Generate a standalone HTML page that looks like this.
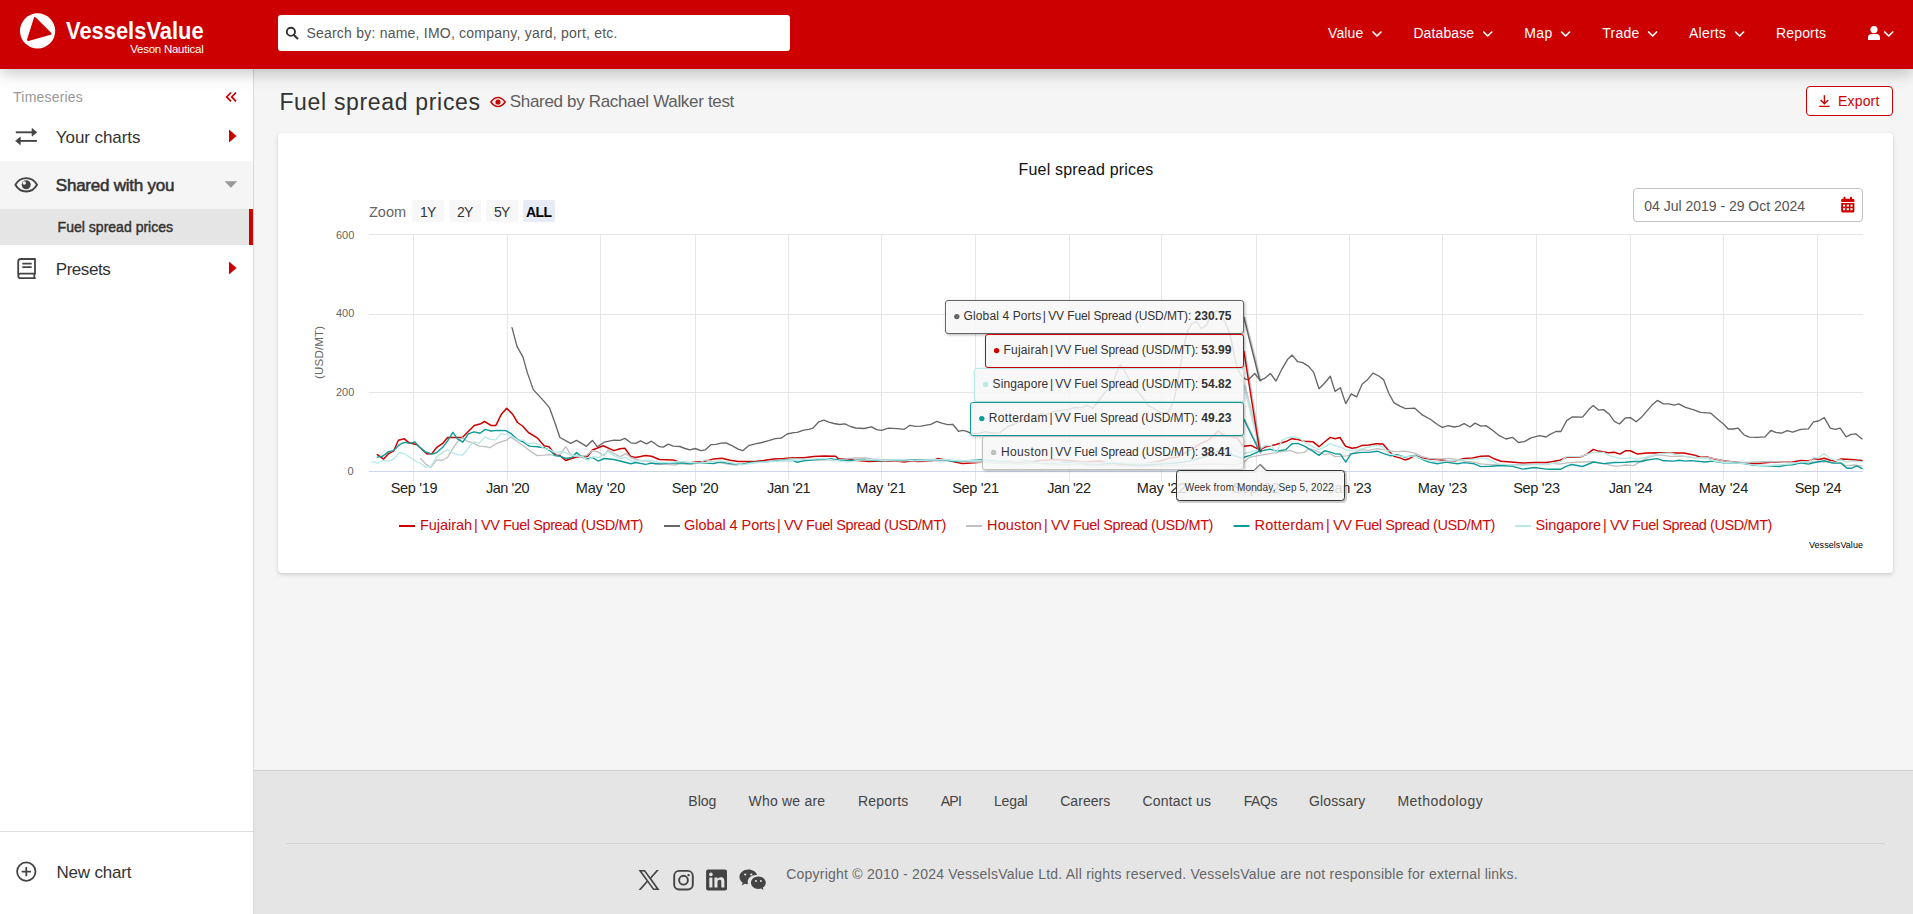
<!DOCTYPE html>
<html lang="en">
<head>
<meta charset="utf-8">
<title>Fuel spread prices</title>
<style>
*{box-sizing:border-box;margin:0;padding:0}
html,body{width:1913px;height:914px;overflow:hidden}
body{font-family:"Liberation Sans",sans-serif;background:#f5f5f5;color:#333;position:relative}
.a{position:absolute}
.t{position:absolute;white-space:nowrap;line-height:1;z-index:1}
svg{position:absolute;overflow:visible}
#hdr{position:absolute;left:0;top:0;width:1913px;height:69px;background:#cc0000;box-shadow:0 3px 16px rgba(0,0,0,.26);z-index:5}
#search{position:absolute;left:278px;top:15px;width:512px;height:36px;background:#fff;border-radius:3px}
#side{position:absolute;left:0;top:69px;width:254px;height:845px;background:#fff;border-right:1px solid #d9d9d9;z-index:2}
#foot{position:absolute;left:254px;top:770px;width:1659px;height:144px;background:#e5e5e5;border-top:1px solid #cfcfcf}
#card{position:absolute;left:278px;top:133px;width:1615px;height:440px;background:#fff;border-radius:4px;box-shadow:0 2px 4px rgba(0,0,0,.15),0 0 2px rgba(0,0,0,.05)}
.zb{position:absolute;top:200px;width:32px;height:22px;background:#f7f7f7;border-radius:2px}
.tt{position:absolute;background:rgba(247,247,247,.85);border:1px solid #666;border-radius:3px;box-shadow:1px 1px 3px rgba(0,0,0,.3);z-index:3}
</style>
</head>
<body>
<!-- ================= HEADER ================= -->
<div id="hdr">
  <svg style="left:19px;top:12px" width="38" height="38" viewBox="0 0 38 38"><circle cx="18.6" cy="18.9" r="17.6" fill="#fff"/><path d="M16 6.3 L31.3 21.6 L9.2 27.8 Z" fill="#cc0000" stroke="#cc0000" stroke-width="2.4" stroke-linejoin="round"/></svg>
  <div id="search"></div>
  <svg style="left:285px;top:26px" width="14" height="14" viewBox="0 0 14 14"><circle cx="5.9" cy="5.8" r="4.1" fill="none" stroke="#333" stroke-width="1.9"/><path d="M8.9 8.9 L12.4 12.4" stroke="#333" stroke-width="2.1" stroke-linecap="round"/></svg>
  <!-- nav chevrons -->
  <svg style="left:0;top:0" width="1913" height="69" viewBox="0 0 1913 69" fill="none" stroke="#fff" stroke-width="1.7" stroke-linecap="round" stroke-linejoin="round">
    <path d="M1373 32 l4 4 l4 -4"/><path d="M1483.7 32 l4 4 l4 -4"/><path d="M1561.6 32 l4 4 l4 -4"/><path d="M1648.6 32 l4 4 l4 -4"/><path d="M1735.6 32 l4 4 l4 -4"/><path d="M1884.7 32 l4 4 l4 -4"/>
  </svg>
  <!-- user -->
  <svg style="left:1867px;top:25px" width="14" height="16" viewBox="0 0 14 16"><circle cx="7" cy="4.6" r="3.6" fill="#fff"/><path d="M1 14.9 v-2.2 a3.6 3.6 0 0 1 3.6 -3.6 h4.8 a3.6 3.6 0 0 1 3.6 3.6 v2.2 z" fill="#fff"/></svg>
</div>
<!-- ================= SIDEBAR ================= -->
<div id="side">
  <div class="a" style="left:0;top:92px;width:253px;height:48px;background:#f5f5f5"></div>
  <div class="a" style="left:0;top:140px;width:253px;height:36px;background:#e5e5e5"></div>
  <div class="a" style="left:249px;top:140px;width:4px;height:36px;background:#cc0000"></div>
  <div class="a" style="left:0;top:762px;width:253px;height:1px;background:#dedede"></div>
  <svg style="left:0;top:0" width="253" height="845" viewBox="0 69 253 845">
    <!-- double angle left -->
    <path d="M231 92.5 l-4.3 4.4 l4.3 4.4 M236 92.5 l-4.3 4.4 l4.3 4.4" fill="none" stroke="#cc0000" stroke-width="1.7"/>
    <!-- exchange arrows -->
    <g stroke="#444" stroke-width="1.9" fill="#444"><path d="M15.8 132.3 H32.5" fill="none"/><path d="M32 128.4 L36.9 132.3 L32 136.2 Z" stroke-width=".6" stroke-linejoin="round"/><path d="M36.9 140.9 H20" fill="none"/><path d="M20.400 137 L15.500 140.900 L20.400 144.800 Z" stroke-width=".6" stroke-linejoin="round"/></g>
    <!-- red triangles -->
    <path d="M229 129.6 L236.6 136 L229 142.4 Z" fill="#cc0000"/>
    <path d="M229 261.6 L236.6 268 L229 274.4 Z" fill="#cc0000"/>
    <!-- gray caret down -->
    <path d="M224.6 181.2 H237.2 L230.9 187.8 Z" fill="#999"/>
    <!-- eye -->
    <path d="M15.4 184.800 C18.2 179.6 22 178.100 26.2 178.100 C30.4 178.100 34.2 179.6 37 184.800 C34.2 190 30.4 191.500 26.2 191.500 C22 191.500 18.2 190 15.4 184.800 Z" fill="none" stroke="#444" stroke-width="1.9" stroke-linejoin="round"/>
    <circle cx="26.2" cy="184.800" r="4.5" fill="#444"/><circle cx="24.3" cy="183" r="1.7" fill="#f5f5f5"/>
    <!-- book -->
    <path d="M18.2 275.8 V261.6 a2.6 2.6 0 0 1 2.6 -2.6 H35 V273.7 H20.500 a2.200 2.200 0 0 0 0 4.400 H35.700 M34.300 273.700 V278.100" fill="none" stroke="#444" stroke-width="1.8" stroke-linejoin="round"/>
    <path d="M22.300 263.700 H31.700 M22.300 267.100 H31.700" stroke="#444" stroke-width="1.8"/>
    <!-- plus circle -->
    <circle cx="26.3" cy="871.6" r="9.2" fill="none" stroke="#444" stroke-width="1.8"/><path d="M21.6 871.6 H31 M26.3 866.9 V876.3" stroke="#444" stroke-width="1.8"/>
  </svg>
</div>
<!-- ================= MAIN ================= -->
<!-- title eye -->
<svg style="left:489px;top:95px" width="18" height="14" viewBox="0 0 18 14"><path d="M1.9 7 C4.4 3.4 6.8 2.5 9 2.5 C11.2 2.5 13.6 3.4 16.100 7 C13.6 10.6 11.2 11.5 9 11.5 C6.8 11.5 4.4 10.6 1.9 7 Z" fill="none" stroke="#cc0000" stroke-width="1.5" stroke-linejoin="round"/><circle cx="9" cy="7" r="2.600" fill="#cc0000"/></svg>
<!-- export -->
<div class="a" style="left:1806px;top:86px;width:87px;height:30px;background:#fff;border:1px solid #cc0000;border-radius:4px"></div>
<svg style="left:1818px;top:94px" width="13" height="14" viewBox="0 0 13 14" fill="none" stroke="#cc0000" stroke-width="1.4"><path d="M6.4 1.2 V9.6 M2.6 6 L6.4 9.8 L10.2 6 M1.2 12.4 H11.6"/></svg>
<div id="card"></div>
<!-- ================= CHART ================= -->
<div class="zb" style="left:412px"></div><div class="zb" style="left:449px"></div><div class="zb" style="left:486px"></div><div class="zb" style="left:523px;background:#e6ebf5"></div>
<div class="a" style="left:1633px;top:188px;width:230px;height:34px;background:#fff;border:1px solid #c4c4c4;border-radius:4px"></div>
<!-- calendar -->
<svg style="left:1840px;top:196px" width="16" height="18" viewBox="0 0 16 18"><path d="M1.2 4.2 a1.4 1.4 0 0 1 1.4 -1.4 H13 a1.4 1.4 0 0 1 1.4 1.4 V6 H1.2 Z M1.2 7 H14.4 V15 a1.4 1.4 0 0 1 -1.4 1.4 H2.6 a1.4 1.4 0 0 1 -1.4 -1.4 Z" fill="#cc0000"/><rect x="3.6" y="0.8" width="1.9" height="3.4" rx=".6" fill="#cc0000"/><rect x="10.1" y="0.8" width="1.9" height="3.4" rx=".6" fill="#cc0000"/><g fill="#fff"><rect x="3" y="8.6" width="2.2" height="2"/><rect x="6.7" y="8.6" width="2.2" height="2"/><rect x="10.4" y="8.6" width="2.2" height="2"/><rect x="3" y="12.2" width="2.2" height="2"/><rect x="6.7" y="12.2" width="2.2" height="2"/><rect x="10.4" y="12.2" width="2.2" height="2"/></g></svg>
<div class="t" style="left:313px;top:345px;font-size:11.5px;color:#666;transform:rotate(-90deg);transform-origin:0 0;width:0;height:0"><span style="position:absolute;left:-34px;top:1px;letter-spacing:.2px">(USD/MT)</span></div>
<svg style="left:0;top:0;z-index:0" width="1913" height="914" viewBox="0 0 1913 914" fill="none">
  <g stroke="#e6e6e6" stroke-width="1">
    <path d="M369 234.5 H1863 M369 314.5 H1863 M369 392.5 H1863"/>
    <path d="M413.5 234 V481 M507.5 234 V481 M600.5 234 V481 M695.5 234 V481 M788.5 234 V481 M881.5 234 V481 M975.5 234 V481 M1069.5 234 V481 M1161.5 234 V481 M1256.5 234 V481 M1349.5 234 V481 M1442.5 234 V481 M1536.5 234 V481 M1630.5 234 V481 M1723.5 234 V481 M1817.5 234 V481"/>
  </g>
  <path d="M369 471.5 H1863" stroke="#ccd6eb"/>
  <g stroke-linejoin="round" stroke-linecap="round">
    <path d="M377.3 454.6 L383.6 459.1 L388.6 453.6 L393.5 451.2 L398.4 440.2 L404.3 438.8 L409.2 442.8 L417.1 444.7 L427.0 454.0 L431.9 453.6 L436.8 447.3 L442.7 443.4 L447.6 437.5 L462.4 437.5 L474.2 425.4 L480.1 424.1 L484.5 421.5 L491.0 425.4 L495.9 425.4 L501.4 414.2 L506.7 408.3 L512.6 414.2 L517.5 422.5 L522.5 426.0 L528.4 432.5 L537.2 437.8 L544.1 445.7 L549.0 446.7 L555.0 454.2 L559.9 455.6 L565.8 460.5 L574.6 457.5 L580.5 456.6 L587.4 456.6 L592.4 450.0 L603.2 445.7 L614.0 450.6 L620.0 448.7 L624.9 448.3 L630.8 456.6 L635.7 457.5 L645.5 455.6 L651.5 456.2 L659.3 459.5 L673.1 459.9 L680.0 462.3 L690.0 462.8 L696.7 461.9 L705.1 461.4 L713.5 458.9 L721.8 458.2 L730.2 460.3 L738.5 461.6 L746.9 461.4 L755.3 461.6 L763.6 460.6 L773.7 458.9 L783.7 458.6 L793.7 457.7 L803.8 457.7 L813.8 456.4 L823.9 455.9 L835.6 456.2 L838.1 458.6 L847.3 458.9 L854.0 460.3 L864.0 461.1 L869.0 461.6 L880.7 461.1 L894.1 460.8 L904.2 461.9 L910.8 460.8 L917.5 461.6 L930.9 461.1 L937.6 458.6 L947.6 460.3 L956.0 462.3 L962.7 463.6 L974.4 462.8 L982.8 461.9 L995.0 462.5 L1010.0 461.5 L1025.0 462.8 L1040.0 460.5 L1055.0 459.5 L1070.0 460.8 L1085.0 462.0 L1100.0 461.0 L1110.0 463.0 L1125.0 464.5 L1140.0 465.0 L1150.0 463.0 L1160.0 461.0 L1170.0 458.0 L1178.0 456.9 L1185.0 453.0 L1192.2 448.8 L1202.3 442.7 L1207.0 441.0 L1212.5 436.6 L1218.5 430.6 L1222.6 434.6 L1230.7 436.6 L1237.8 438.7 L1242.8 445.7 L1244.2 446.2 L1250.9 445.4 L1259.7 449.8 L1265.1 447.1 L1276.0 444.5 L1286.8 441.2 L1291.9 438.7 L1297.7 439.5 L1304.4 441.2 L1312.8 441.7 L1319.0 446.7 L1324.5 442.0 L1330.3 437.4 L1335.0 438.7 L1340.0 437.5 L1345.4 446.2 L1352.1 448.2 L1357.1 447.4 L1362.1 445.4 L1368.8 445.1 L1376.3 443.7 L1383.0 444.0 L1388.9 450.9 L1393.9 456.3 L1399.8 457.9 L1404.8 459.9 L1409.0 458.8 L1414.8 455.4 L1421.5 457.9 L1429.0 459.1 L1437.4 459.6 L1445.8 460.4 L1455.8 460.8 L1464.2 458.4 L1472.5 457.9 L1480.9 456.3 L1488.4 455.9 L1494.3 458.8 L1501.0 461.3 L1511.0 462.1 L1522.7 463.0 L1534.4 462.6 L1546.1 462.6 L1550.0 462.0 L1560.0 460.3 L1566.7 457.3 L1579.3 457.3 L1586.8 454.4 L1593.2 449.4 L1598.5 451.1 L1608.5 452.8 L1614.4 452.3 L1619.9 454.1 L1625.3 450.8 L1630.3 450.8 L1637.0 453.9 L1647.0 453.1 L1658.7 452.8 L1670.4 453.1 L1683.8 453.1 L1693.9 454.9 L1700.6 457.3 L1707.2 457.0 L1714.8 459.1 L1723.5 460.8 L1733.2 462.0 L1744.0 463.1 L1757.4 463.6 L1770.8 462.3 L1784.2 462.3 L1792.6 462.0 L1800.9 460.6 L1808.4 461.1 L1813.5 458.6 L1818.5 459.5 L1824.3 458.3 L1830.2 460.3 L1835.2 461.1 L1841.1 459.0 L1851.1 459.5 L1862.0 460.6" stroke="#cc0000" stroke-width="1.5"/>
    <path d="M512.0 327.6 L517.0 346.3 L523.0 357.1 L527.4 372.9 L533.3 389.6 L544.1 401.4 L549.6 407.9 L555.0 423.0 L559.9 437.5 L570.7 443.4 L576.6 440.4 L586.5 446.3 L592.4 440.4 L597.3 446.7 L604.2 442.2 L614.0 440.2 L620.0 440.4 L624.9 438.4 L630.8 442.8 L635.7 443.4 L640.6 440.8 L646.5 443.8 L651.5 441.2 L659.3 446.7 L663.3 447.1 L668.2 444.1 L673.1 446.1 L680.0 446.5 L685.0 448.5 L690.0 449.9 L695.1 448.5 L700.9 450.7 L705.1 449.9 L710.9 444.7 L716.0 444.4 L721.0 443.2 L726.0 442.9 L731.9 445.7 L737.7 448.9 L742.7 450.7 L748.6 445.7 L755.3 443.9 L762.0 442.5 L768.7 440.7 L775.3 438.7 L781.2 438.2 L787.1 434.0 L793.7 432.7 L797.1 432.3 L803.8 430.1 L808.8 429.3 L813.0 428.1 L818.8 421.8 L823.9 420.1 L828.9 422.1 L833.9 423.5 L839.8 424.5 L844.8 423.8 L850.6 426.5 L855.6 428.0 L864.0 428.5 L871.5 426.8 L876.6 429.6 L881.6 430.3 L888.3 428.1 L897.5 428.6 L904.2 429.3 L910.0 425.3 L915.0 426.3 L920.9 426.1 L930.9 424.3 L936.8 421.3 L941.8 423.1 L947.6 424.6 L952.7 424.3 L958.5 431.3 L962.7 430.3 L966.9 431.3 L970.2 433.2 L978.0 433.5 L985.0 431.8 L992.0 433.0 L1000.0 432.6 L1008.0 426.5 L1014.0 424.5 L1020.0 421.0 L1028.0 418.0 L1034.0 416.5 L1040.5 413.4 L1047.0 414.5 L1054.0 411.5 L1060.7 410.3 L1068.0 409.5 L1075.0 407.5 L1081.0 407.8 L1087.0 405.3 L1093.0 408.3 L1099.0 400.0 L1105.2 392.1 L1109.0 388.0 L1113.3 382.0 L1117.0 372.0 L1120.4 364.8 L1124.0 370.0 L1129.5 380.0 L1135.0 388.0 L1141.6 396.2 L1147.7 405.3 L1153.0 408.0 L1159.9 412.4 L1164.0 413.0 L1167.9 412.4 L1171.0 407.0 L1174.0 400.2 L1178.1 380.0 L1182.1 355.7 L1185.0 341.0 L1188.2 329.4 L1192.0 324.0 L1196.3 321.3 L1201.3 328.4 L1206.4 325.4 L1210.4 315.2 L1214.0 312.0 L1217.5 311.2 L1221.0 315.0 L1224.6 321.3 L1228.0 329.0 L1230.7 337.5 L1233.0 349.0 L1235.7 361.8 L1238.0 369.0 L1240.8 374.9 L1245.0 378.8 L1248.4 379.8 L1254.7 373.5 L1260.1 380.3 L1265.1 378.1 L1270.4 373.5 L1276.0 381.0 L1281.8 369.3 L1287.7 359.2 L1292.2 355.1 L1297.7 361.7 L1302.7 362.6 L1308.6 366.4 L1313.6 372.1 L1319.0 388.8 L1324.5 383.2 L1330.3 376.3 L1335.0 391.4 L1340.4 387.7 L1345.7 403.6 L1351.2 393.9 L1356.6 396.9 L1362.1 384.3 L1367.1 380.1 L1373.0 373.1 L1378.8 376.0 L1383.5 379.6 L1388.9 393.5 L1393.9 402.7 L1399.8 406.1 L1405.6 408.6 L1414.8 408.2 L1422.3 414.9 L1430.7 419.5 L1437.4 424.5 L1442.4 427.3 L1448.3 425.6 L1454.1 427.0 L1459.1 426.1 L1464.2 423.6 L1470.0 427.0 L1475.0 423.1 L1480.9 426.1 L1485.9 425.6 L1492.6 430.3 L1499.3 435.7 L1506.0 439.0 L1512.7 437.4 L1518.5 442.5 L1524.4 441.7 L1531.1 437.9 L1539.4 435.7 L1546.1 437.0 L1550.0 434.4 L1555.9 431.5 L1560.9 431.5 L1566.7 420.6 L1572.6 416.8 L1582.6 417.1 L1588.5 409.8 L1593.2 405.6 L1598.5 410.1 L1603.5 409.6 L1609.4 414.3 L1614.4 421.3 L1619.4 424.0 L1625.3 418.0 L1630.3 417.6 L1636.2 421.8 L1641.2 417.6 L1647.0 410.9 L1652.0 405.1 L1657.4 400.4 L1663.4 403.8 L1668.8 403.8 L1674.1 405.1 L1678.8 403.9 L1685.5 407.3 L1693.9 409.8 L1700.6 412.3 L1710.6 413.1 L1717.3 419.0 L1723.5 424.0 L1728.2 429.0 L1733.2 429.0 L1738.2 428.2 L1744.0 434.9 L1749.1 437.2 L1757.4 437.4 L1765.0 436.9 L1770.8 430.5 L1775.8 432.4 L1781.7 433.2 L1787.2 430.7 L1792.6 432.2 L1800.9 429.3 L1808.4 428.8 L1813.5 421.8 L1818.5 421.0 L1824.3 417.6 L1830.2 428.2 L1835.2 429.3 L1840.2 428.2 L1846.1 436.9 L1851.1 434.4 L1856.1 433.9 L1862.0 438.9" stroke="#666" stroke-width="1.35"/>
    <path d="M420.7 458.5 L426.0 464.4 L430.9 467.4 L436.8 459.9 L441.7 460.5 L447.6 457.5 L452.6 448.7 L457.5 441.8 L462.4 437.8 L467.3 441.4 L473.2 442.8 L479.1 446.1 L485.0 446.7 L490.0 447.7 L495.9 443.8 L500.8 441.8 L506.7 440.2 L510.6 436.9 L517.5 441.8 L523.4 445.7 L529.4 450.6 L537.2 455.6 L544.1 455.2 L550.0 454.6 L555.0 455.6 L560.9 453.6 L565.8 446.7 L570.7 454.6 L576.6 456.6 L586.5 455.6 L592.4 450.6 L597.3 451.6 L604.2 455.6 L608.1 450.0 L614.0 453.6 L620.0 456.6 L625.9 453.6 L630.8 457.5 L639.6 460.5 L647.5 461.1 L655.4 464.4 L665.2 464.4 L675.1 465.0 L680.0 463.5 L690.0 464.5 L700.0 462.5 L706.0 460.0 L715.0 462.0 L725.0 463.5 L735.0 465.0 L745.0 464.0 L755.0 462.5 L770.0 461.5 L785.0 459.5 L795.0 458.5 L805.0 459.5 L820.0 459.8 L835.0 460.0 L845.0 459.0 L855.0 458.0 L865.0 457.8 L872.0 459.0 L885.0 460.0 L900.0 461.0 L915.0 460.0 L930.0 461.2 L945.0 460.5 L960.0 461.5 L975.0 462.0 L990.0 462.5 L1005.0 463.5 L1020.0 464.0 L1035.0 463.0 L1050.0 464.5 L1065.0 465.0 L1080.0 464.0 L1095.0 465.5 L1110.0 465.0 L1125.0 466.0 L1140.0 466.5 L1155.0 466.0 L1170.0 465.5 L1185.0 465.0 L1200.0 464.5 L1215.0 464.0 L1225.0 464.5 L1235.0 465.0 L1244.2 462.1 L1250.0 457.1 L1259.7 455.4 L1270.1 453.7 L1281.8 451.7 L1290.2 450.4 L1297.7 453.2 L1304.4 452.4 L1308.6 448.7 L1315.3 450.4 L1324.5 454.6 L1330.3 453.7 L1335.0 456.6 L1340.4 456.3 L1347.1 455.8 L1355.4 452.1 L1362.1 449.6 L1368.8 450.4 L1377.2 448.7 L1383.9 449.6 L1390.6 451.2 L1397.2 451.7 L1404.8 451.2 L1414.8 453.2 L1421.5 456.3 L1429.0 458.3 L1437.4 459.1 L1448.3 458.4 L1457.5 459.6 L1465.8 461.3 L1474.2 462.1 L1480.9 463.8 L1490.9 464.6 L1501.0 464.6 L1516.0 464.6 L1534.4 464.1 L1549.5 464.1 L1550.0 463.1 L1560.0 464.1 L1566.7 462.8 L1579.3 462.0 L1593.5 461.6 L1603.5 463.6 L1614.4 466.1 L1620.3 465.8 L1625.3 465.0 L1633.6 465.6 L1641.2 461.1 L1647.0 457.8 L1657.1 454.9 L1663.7 455.3 L1670.4 456.4 L1683.8 456.4 L1693.9 457.8 L1707.2 457.3 L1714.8 458.6 L1723.5 460.8 L1733.2 462.0 L1744.0 462.5 L1757.4 462.0 L1770.8 461.5 L1784.2 462.3 L1800.9 462.8 L1813.5 462.0 L1824.3 461.5 L1835.2 462.8 L1841.1 463.1 L1846.1 465.8 L1854.4 465.0 L1862.0 466.1" stroke="#c0c0c0" stroke-width="1.35"/>
    <path d="M377.3 457.1 L382.6 456.2 L388.6 451.6 L393.5 450.6 L399.4 444.7 L404.3 442.4 L410.2 443.4 L414.7 441.8 L419.1 446.7 L425.0 451.6 L431.9 454.2 L436.8 452.6 L442.7 447.3 L447.6 440.8 L452.9 432.3 L457.5 438.8 L462.8 442.2 L468.3 433.9 L474.2 431.9 L480.1 433.3 L485.0 429.4 L491.0 431.0 L497.8 430.4 L505.7 430.6 L511.6 433.9 L517.5 439.4 L523.4 442.2 L529.4 446.1 L537.2 446.7 L544.1 447.7 L550.0 450.6 L555.0 455.6 L559.9 456.2 L565.8 458.5 L571.7 457.5 L576.6 452.6 L581.5 456.6 L586.5 459.1 L592.4 457.5 L598.3 461.1 L604.2 458.5 L614.0 459.5 L621.9 461.5 L630.8 463.8 L635.7 462.5 L645.5 464.4 L651.5 463.1 L659.3 463.8 L669.2 463.1 L680.0 462.8 L690.0 463.6 L696.7 463.1 L706.8 463.1 L713.5 463.6 L721.0 461.9 L730.2 463.6 L741.9 464.4 L750.3 462.4 L763.6 461.9 L773.7 461.1 L783.7 460.3 L793.7 460.6 L797.1 462.3 L803.8 460.8 L813.8 459.9 L823.9 459.4 L830.6 458.6 L838.9 460.3 L847.3 460.8 L857.3 460.3 L864.0 459.4 L872.4 460.3 L880.7 460.8 L897.5 459.9 L914.2 460.3 L930.9 459.9 L947.6 460.3 L956.0 461.6 L964.4 461.1 L974.4 460.3 L982.8 459.9 L995.0 461.0 L1010.0 462.0 L1025.0 461.0 L1040.0 462.5 L1055.0 463.0 L1070.0 462.0 L1085.0 463.5 L1100.0 464.0 L1115.0 463.0 L1130.0 464.5 L1145.0 465.0 L1160.0 464.0 L1175.0 463.0 L1190.0 461.0 L1200.0 458.0 L1210.0 455.0 L1218.0 451.0 L1222.0 447.0 L1227.0 452.0 L1235.0 456.0 L1242.0 458.0 L1250.0 455.4 L1259.7 451.2 L1270.1 449.1 L1276.0 451.2 L1286.0 449.6 L1291.9 443.7 L1297.7 443.4 L1304.4 446.2 L1312.8 451.2 L1319.0 455.4 L1324.5 450.7 L1330.3 452.1 L1335.0 453.7 L1340.4 454.1 L1345.7 462.1 L1351.2 453.7 L1362.1 452.4 L1368.8 452.4 L1377.2 451.2 L1383.9 453.7 L1390.6 455.8 L1397.2 454.6 L1404.8 457.1 L1414.8 455.4 L1421.5 459.1 L1429.0 462.1 L1437.4 463.8 L1445.8 462.1 L1457.5 463.8 L1464.2 462.6 L1474.2 463.8 L1480.9 466.6 L1490.9 466.3 L1501.0 465.5 L1512.7 466.3 L1522.7 469.1 L1534.4 467.5 L1546.1 469.1 L1550.0 469.2 L1560.9 469.2 L1566.7 466.1 L1571.7 464.5 L1582.6 466.5 L1593.5 462.0 L1603.5 463.6 L1614.4 462.5 L1625.3 462.3 L1633.6 461.5 L1641.2 461.5 L1647.0 460.0 L1657.1 458.6 L1663.7 460.8 L1673.8 461.1 L1678.8 460.3 L1685.5 461.1 L1690.5 460.6 L1705.6 462.0 L1712.3 461.1 L1723.5 462.8 L1733.2 462.8 L1744.0 463.6 L1754.1 465.3 L1767.5 465.8 L1779.2 466.5 L1787.5 465.0 L1792.6 464.8 L1800.9 462.8 L1808.4 464.1 L1813.5 462.8 L1824.3 460.8 L1832.7 463.1 L1841.1 463.1 L1846.9 468.2 L1851.1 468.3 L1857.0 465.8 L1862.0 468.7" stroke="#0e9a97" stroke-width="1.4"/>
    <path d="M372.2 461.9 L377.7 463.1 L382.6 460.5 L388.6 461.1 L393.5 459.1 L399.4 452.6 L404.3 453.6 L410.2 457.5 L416.1 461.5 L421.0 463.5 L426.0 467.4 L430.9 466.4 L436.8 456.6 L442.7 452.6 L447.6 449.3 L452.6 452.6 L457.5 454.6 L462.4 455.2 L467.3 449.7 L473.2 441.8 L479.1 443.4 L485.0 436.9 L490.0 439.4 L495.9 439.8 L500.8 433.9 L506.7 434.3 L512.6 436.9 L517.5 439.8 L523.4 440.2 L527.4 443.8 L533.3 442.8 L539.2 444.7 L544.1 448.7 L550.0 449.7 L555.0 452.6 L560.9 451.6 L565.8 452.6 L571.7 455.6 L576.6 455.6 L582.5 456.6 L587.4 460.5 L593.4 456.6 L599.3 457.5 L603.2 454.6 L608.1 451.6 L614.0 455.6 L620.0 458.5 L625.9 457.5 L631.8 461.5 L639.6 460.5 L651.5 460.5 L659.3 462.5 L669.2 462.5 L680.0 461.5 L690.0 462.5 L700.0 463.2 L710.0 462.0 L720.0 460.8 L730.0 462.4 L742.0 464.8 L752.0 463.0 L765.0 462.0 L780.0 461.0 L795.0 460.0 L810.0 459.2 L825.0 458.5 L832.0 460.0 L840.0 461.0 L850.0 461.8 L860.0 460.2 L872.0 459.5 L885.0 460.5 L900.0 459.5 L915.0 460.8 L930.0 460.0 L945.0 459.5 L960.0 461.0 L975.0 460.5 L990.0 461.5 L1005.0 462.5 L1020.0 461.5 L1035.0 463.0 L1050.0 462.0 L1065.0 463.5 L1080.0 462.5 L1095.0 463.5 L1110.0 462.0 L1125.0 463.0 L1140.0 464.0 L1155.0 463.0 L1170.0 462.0 L1185.0 459.0 L1195.0 455.0 L1205.0 450.0 L1212.0 444.0 L1218.0 433.0 L1221.6 426.5 L1226.0 436.0 L1232.0 446.0 L1238.0 452.0 L1244.0 453.5 L1250.0 452.1 L1259.7 449.4 L1265.1 445.4 L1271.8 445.7 L1276.0 453.7 L1281.8 440.4 L1287.7 437.5 L1293.5 437.0 L1300.2 438.7 L1306.9 443.7 L1313.6 447.1 L1319.0 449.6 L1324.5 447.1 L1330.3 443.7 L1336.2 446.2 L1342.0 447.9 L1347.1 450.4 L1353.8 450.4 L1362.1 448.7 L1368.8 447.1 L1377.2 445.1 L1383.0 447.1 L1388.9 453.7 L1395.6 455.4 L1404.8 456.6 L1414.8 455.8 L1421.5 458.8 L1429.0 460.4 L1437.4 462.1 L1445.8 460.8 L1457.5 460.1 L1465.8 459.6 L1474.2 459.1 L1480.9 457.9 L1489.2 459.6 L1497.6 463.8 L1507.6 464.6 L1522.7 465.5 L1534.4 464.6 L1546.1 464.6 L1550.0 463.6 L1560.0 462.0 L1566.7 456.4 L1579.3 456.9 L1586.8 454.4 L1593.5 452.4 L1603.5 452.3 L1608.5 455.3 L1620.3 458.6 L1630.3 457.8 L1637.0 459.1 L1647.0 457.0 L1658.7 453.6 L1670.4 453.1 L1677.1 454.9 L1685.5 456.4 L1693.9 457.3 L1707.2 458.6 L1714.8 461.1 L1723.5 462.5 L1733.2 462.8 L1744.0 463.6 L1757.4 465.3 L1770.8 465.3 L1784.2 464.5 L1792.6 463.6 L1800.9 462.0 L1808.4 462.0 L1813.5 457.8 L1818.5 457.8 L1824.0 453.6 L1829.4 457.8 L1835.2 460.3 L1841.1 460.0 L1846.1 462.0 L1854.4 461.1 L1862.0 461.6" stroke="#b8e9e7" stroke-width="1.35"/>
  </g>
  <!-- legend symbols -->
  <g stroke-width="2"><path d="M399 526 H415" stroke="#cc0000"/><path d="M664 526 H680" stroke="#666"/><path d="M966 526 H982" stroke="#c0c0c0"/><path d="M1233.6 526 H1249.6" stroke="#0e9a97"/><path d="M1515 526 H1531" stroke="#b8e9e7"/></g>
</svg>
<!-- tooltips -->
<svg style="left:0;top:0;z-index:3" width="1913" height="914" viewBox="0 0 1913 914" fill="none" stroke-linecap="round">
  <g stroke="rgba(0,0,0,.2)" stroke-width="2.4"><path d="M1244.8 318.2 L1260.6 381"/><path d="M1244.8 352.2 L1260.6 451.5"/><path d="M1244.8 386 L1260.6 450.5"/><path d="M1244.8 420.2 L1260.6 452.5"/></g>
  <path d="M1243.8 317 L1259.6 380" stroke="#666" stroke-width="1.4"/>
  <path d="M1243.8 384.8 L1259.6 449.5" stroke="#b8e9e7" stroke-width="1.4"/>
  <path d="M1243.8 419 L1259.6 451.5" stroke="#0e9a97" stroke-width="1.4"/>
  <path d="M1243.8 351 L1259.6 450.5" stroke="#cc0000" stroke-width="1.4"/>
</svg>
<div class="tt" style="left:945px;top:300px;width:299px;height:34px;border-color:#666"></div>
<div class="tt" style="left:985px;top:334px;width:259px;height:34px;border-color:#cc0000"></div>
<div class="tt" style="left:974px;top:368px;width:270px;height:34px;border-color:#b8e9e7"></div>
<div class="tt" style="left:970px;top:402px;width:274px;height:34px;border-color:#0e9a97"></div>
<div class="tt" style="left:982px;top:436px;width:262px;height:34px;border-color:#c0c0c0"></div>
<svg style="left:0;top:0;z-index:3" width="1913" height="914" viewBox="0 0 1913 914">
  <path d="M1179.5 470.5 H1254 L1260 464.5 L1266 470.5 H1341.5 a3 3 0 0 1 3 3 V497.5 a3 3 0 0 1 -3 3 H1179.5 a3 3 0 0 1 -3 -3 V473.5 a3 3 0 0 1 3 -3 Z" transform="translate(1 1)" fill="none" stroke="rgba(0,0,0,.2)" stroke-width="3"/>
  <path d="M1179.5 470.5 H1254 L1260 464.5 L1266 470.5 H1341.5 a3 3 0 0 1 3 3 V497.5 a3 3 0 0 1 -3 3 H1179.5 a3 3 0 0 1 -3 -3 V473.5 a3 3 0 0 1 3 -3 Z" fill="rgba(247,247,247,.85)" stroke="#333" stroke-width="1"/>
  <circle cx="956.8" cy="316.6" r="2.7" fill="#666"/><circle cx="996.6" cy="350.6" r="2.7" fill="#cc0000"/><circle cx="985.6" cy="384.4" r="2.7" fill="#b8e9e7"/><circle cx="981.8" cy="418.6" r="2.7" fill="#0e9a97"/><circle cx="993.6" cy="452.4" r="2.7" fill="#c0c0c0"/>
</svg>
<!-- ================= FOOTER ================= -->
<div id="foot">
  <div class="a" style="left:32px;top:72px;width:1599px;height:1px;background:#d3d3d3"></div>
</div>
<svg style="left:636px;top:868px" width="132" height="24" viewBox="636 868 132 24" fill="#444">
  <!-- X -->
  <path d="M638.5 870 H645 L650.3 877.2 L656.6 870 H658.9 L651.3 878.6 L659.6 890 H653.1 L647.5 882.3 L640.8 890 H638.5 L646.5 880.9 Z M641.7 871.6 L653.9 888.4 H656.4 L644.2 871.6 Z" fill-rule="evenodd"/>
  <!-- instagram -->
  <rect x="674.2" y="870.9" width="18.6" height="18.6" rx="5" fill="none" stroke="#444" stroke-width="1.9"/><circle cx="683.5" cy="880.2" r="4.4" fill="none" stroke="#444" stroke-width="1.9"/><circle cx="688.6" cy="875.1" r="1.2"/>
  <!-- linkedin -->
  <rect x="706.1" y="869.6" width="20.9" height="20.9" rx="1.8"/>
  <g fill="#e5e5e5"><circle cx="710.9" cy="874.4" r="1.8"/><rect x="709.3" y="877.6" width="3.1" height="9.9"/><path d="M714.4 877.6 h3 v1.4 c.6 -1 1.8 -1.7 3.4 -1.7 c3 0 3.6 2 3.6 4.5 v5.7 h-3.1 v-5 c0 -1.3 -.1 -2.7 -1.7 -2.7 c-1.600 0 -2.100 1.300 -2.100 2.600 v5.100 h-3.100 z"/></g>
  <!-- wechat -->
  <path d="M748.3 869.6 c-4.900 0 -8.800 3.300 -8.800 7.400 c0 2.300 1.200 4.300 3.200 5.700 l-.9 2.700 l3.100 -1.600 c1 .3 2.100 .5 3.200 .5 c-.3 -.8 -.4 -1.600 -.4 -2.400 c0 -3.900 3.700 -7 8.200 -7 c.4 0 .8 0 1.100 .1 c-.8 -3.100 -4.400 -5.400 -8.700 -5.400 z"/>
  <path d="M765.800 882.700 c0 -3.400 -3.300 -6.200 -7.400 -6.200 c-4.100 0 -7.400 2.800 -7.400 6.200 c0 3.400 3.300 6.200 7.400 6.200 c.9 0 1.800 -.1 2.600 -.4 l2.500 1.400 l-.7 -2.300 c1.800 -1.100 3 -2.900 3 -4.900 z"/>
  <g fill="#e5e5e5"><circle cx="745.2" cy="874.5" r="1.1"/><circle cx="751.3" cy="874.5" r="1.1"/><circle cx="755.900" cy="881" r=".95"/><circle cx="760.900" cy="881" r=".95"/></g>
</svg>
<span class="t" style="left:66.3px;top:18.5px;font-size:24.5px;font-weight:700;color:#fff;transform:scaleX(0.8938);transform-origin:0 0;z-index:6;">VesselsValue</span>
<span class="t" style="left:130.2px;top:43.7px;font-size:11.5px;font-weight:400;color:#fff;letter-spacing:-0.244px;z-index:6;">Veson Nautical</span>
<span class="t" style="left:306.4px;top:26.0px;font-size:14px;font-weight:400;color:#555;letter-spacing:0.222px;z-index:6;">Search by: name, IMO, company, yard, port, etc.</span>
<span class="t" style="left:1328.0px;top:25.8px;font-size:14px;font-weight:400;color:#fff;letter-spacing:0.124px;z-index:6;">Value</span>
<span class="t" style="left:1413.4px;top:25.8px;font-size:14px;font-weight:400;color:#fff;letter-spacing:0.108px;z-index:6;">Database</span>
<span class="t" style="left:1524.2px;top:25.8px;font-size:14px;font-weight:400;color:#fff;letter-spacing:0.422px;z-index:6;">Map</span>
<span class="t" style="left:1602.3px;top:25.8px;font-size:14px;font-weight:400;color:#fff;letter-spacing:0.208px;z-index:6;">Trade</span>
<span class="t" style="left:1689.0px;top:25.8px;font-size:14px;font-weight:400;color:#fff;letter-spacing:0.217px;z-index:6;">Alerts</span>
<span class="t" style="left:1776.1px;top:25.8px;font-size:14px;font-weight:400;color:#fff;letter-spacing:0.138px;z-index:6;">Reports</span>
<span class="t" style="left:279.4px;top:91.1px;font-size:23px;font-weight:400;color:#333;letter-spacing:0.672px;">Fuel spread prices</span>
<span class="t" style="left:509.8px;top:92.9px;font-size:17px;font-weight:400;color:#5e5e5e;letter-spacing:-0.328px;">Shared by Rachael Walker test</span>
<span class="t" style="left:1838.0px;top:94.0px;font-size:14px;font-weight:400;color:#cc0000;letter-spacing:0.172px;">Export</span>
<span class="t" style="left:13.1px;top:89.7px;font-size:14px;font-weight:400;color:#999;letter-spacing:0.196px;z-index:3;">Timeseries</span>
<span class="t" style="left:55.8px;top:128.6px;font-size:17px;font-weight:400;color:#333;letter-spacing:-0.070px;z-index:3;">Your charts</span>
<span class="t" style="left:55.8px;top:176.8px;font-size:17px;font-weight:400;color:#333;letter-spacing:-0.227px;z-index:3;-webkit-text-stroke:.55px #333;">Shared with you</span>
<span class="t" style="left:57.6px;top:219.7px;font-size:14px;font-weight:400;color:#333;letter-spacing:0.018px;z-index:3;-webkit-text-stroke:.45px #333;">Fuel spread prices</span>
<span class="t" style="left:55.8px;top:260.8px;font-size:17px;font-weight:400;color:#333;letter-spacing:-0.463px;z-index:3;">Presets</span>
<span class="t" style="left:56.4px;top:864.3px;font-size:17px;font-weight:400;color:#333;letter-spacing:-0.170px;z-index:3;">New chart</span>
<span class="t" style="left:688.3px;top:793.7px;font-size:14px;font-weight:400;color:#444;letter-spacing:0.017px;">Blog</span>
<span class="t" style="left:748.5px;top:793.7px;font-size:14px;font-weight:400;color:#444;letter-spacing:0.210px;">Who we are</span>
<span class="t" style="left:857.9px;top:793.7px;font-size:14px;font-weight:400;color:#444;letter-spacing:0.238px;">Reports</span>
<span class="t" style="left:940.7px;top:793.7px;font-size:14px;font-weight:400;color:#444;letter-spacing:-0.659px;">API</span>
<span class="t" style="left:993.9px;top:793.7px;font-size:14px;font-weight:400;color:#444;letter-spacing:-0.113px;">Legal</span>
<span class="t" style="left:1060.2px;top:793.7px;font-size:14px;font-weight:400;color:#444;letter-spacing:0.058px;">Careers</span>
<span class="t" style="left:1142.5px;top:793.7px;font-size:14px;font-weight:400;color:#444;letter-spacing:0.176px;">Contact us</span>
<span class="t" style="left:1243.8px;top:793.7px;font-size:14px;font-weight:400;color:#444;letter-spacing:-0.454px;">FAQs</span>
<span class="t" style="left:1309.1px;top:793.7px;font-size:14px;font-weight:400;color:#444;letter-spacing:0.121px;">Glossary</span>
<span class="t" style="left:1397.4px;top:793.7px;font-size:14px;font-weight:400;color:#444;letter-spacing:0.512px;">Methodology</span>
<span class="t" style="left:786.2px;top:867.4px;font-size:14px;font-weight:400;color:#666;letter-spacing:0.228px;">Copyright © 2010 - 2024 VesselsValue Ltd. All rights reserved. VesselsValue are not responsible for external links.</span>
<span class="t" style="left:1018.5px;top:161.9px;font-size:16px;font-weight:400;color:#111;letter-spacing:0.188px;">Fuel spread prices</span>
<span class="t" style="left:369.0px;top:204.7px;font-size:14.5px;font-weight:400;color:#666;letter-spacing:-0.020px;">Zoom</span>
<span class="t" style="left:420.0px;top:204.6px;font-size:14px;font-weight:400;color:#333;letter-spacing:-0.812px;">1Y</span>
<span class="t" style="left:457.0px;top:204.6px;font-size:14px;font-weight:400;color:#333;letter-spacing:-0.812px;">2Y</span>
<span class="t" style="left:494.0px;top:204.6px;font-size:14px;font-weight:400;color:#333;letter-spacing:-0.812px;">5Y</span>
<span class="t" style="left:526.0px;top:204.6px;font-size:14px;font-weight:700;color:#000;letter-spacing:-0.573px;">ALL</span>
<span class="t" style="left:1644.3px;top:199.1px;font-size:14px;font-weight:400;color:#555;letter-spacing:-0.016px;">04 Jul 2019 - 29 Oct 2024</span>
<span class="t" style="left:336.0px;top:229.7px;font-size:11px;font-weight:400;color:#666;letter-spacing:-0.020px;">600</span>
<span class="t" style="left:336.0px;top:308.4px;font-size:11px;font-weight:400;color:#666;letter-spacing:-0.020px;">400</span>
<span class="t" style="left:336.0px;top:387.0px;font-size:11px;font-weight:400;color:#666;letter-spacing:-0.020px;">200</span>
<span class="t" style="left:347.5px;top:466.0px;font-size:11px;font-weight:400;color:#666;letter-spacing:0.675px;">0</span>
<span class="t" style="left:390.7px;top:481.0px;font-size:14.5px;font-weight:400;color:#222;letter-spacing:-0.305px;">Sep '19</span>
<span class="t" style="left:485.9px;top:481.0px;font-size:14.5px;font-weight:400;color:#222;letter-spacing:-0.430px;">Jan '20</span>
<span class="t" style="left:575.7px;top:481.0px;font-size:14.5px;font-weight:400;color:#222;letter-spacing:-0.104px;">May '20</span>
<span class="t" style="left:671.7px;top:481.0px;font-size:14.5px;font-weight:400;color:#222;letter-spacing:-0.305px;">Sep '20</span>
<span class="t" style="left:766.9px;top:481.0px;font-size:14.5px;font-weight:400;color:#222;letter-spacing:-0.430px;">Jan '21</span>
<span class="t" style="left:856.2px;top:481.0px;font-size:14.5px;font-weight:400;color:#222;letter-spacing:-0.104px;">May '21</span>
<span class="t" style="left:952.2px;top:481.0px;font-size:14.5px;font-weight:400;color:#222;letter-spacing:-0.305px;">Sep '21</span>
<span class="t" style="left:1047.3px;top:481.0px;font-size:14.5px;font-weight:400;color:#222;letter-spacing:-0.430px;">Jan '22</span>
<span class="t" style="left:1136.7px;top:481.0px;font-size:14.5px;font-weight:400;color:#222;letter-spacing:-0.104px;">May '22</span>
<span class="t" style="left:1232.7px;top:481.0px;font-size:14.5px;font-weight:400;color:#222;letter-spacing:-0.305px;">Sep '22</span>
<span class="t" style="left:1327.8px;top:481.0px;font-size:14.5px;font-weight:400;color:#222;letter-spacing:-0.430px;">Jan '23</span>
<span class="t" style="left:1417.7px;top:481.0px;font-size:14.5px;font-weight:400;color:#222;letter-spacing:-0.104px;">May '23</span>
<span class="t" style="left:1513.2px;top:481.0px;font-size:14.5px;font-weight:400;color:#222;letter-spacing:-0.305px;">Sep '23</span>
<span class="t" style="left:1608.8px;top:481.0px;font-size:14.5px;font-weight:400;color:#222;letter-spacing:-0.430px;">Jan '24</span>
<span class="t" style="left:1698.7px;top:481.0px;font-size:14.5px;font-weight:400;color:#222;letter-spacing:-0.104px;">May '24</span>
<span class="t" style="left:1794.7px;top:481.0px;font-size:14.5px;font-weight:400;color:#222;letter-spacing:-0.305px;">Sep '24</span>
<span class="t" style="left:420.0px;top:518.3px;font-size:14.5px;font-weight:400;color:#cc0808;letter-spacing:-0.036px;">Fujairah</span>
<span class="t" style="left:474.1px;top:518.3px;font-size:14.5px;font-weight:400;color:#cc0808;letter-spacing:-0.381px;">|</span>
<span class="t" style="left:481.0px;top:518.3px;font-size:14.5px;font-weight:400;color:#cc0808;letter-spacing:-0.419px;">VV Fuel Spread (USD/MT)</span>
<span class="t" style="left:684.0px;top:518.3px;font-size:14.5px;font-weight:400;color:#cc0808;letter-spacing:-0.056px;">Global 4 Ports</span>
<span class="t" style="left:777.1px;top:518.3px;font-size:14.5px;font-weight:400;color:#cc0808;letter-spacing:-0.381px;">|</span>
<span class="t" style="left:784.0px;top:518.3px;font-size:14.5px;font-weight:400;color:#cc0808;letter-spacing:-0.419px;">VV Fuel Spread (USD/MT)</span>
<span class="t" style="left:987.0px;top:518.3px;font-size:14.5px;font-weight:400;color:#cc0808;letter-spacing:0.155px;">Houston</span>
<span class="t" style="left:1044.1px;top:518.3px;font-size:14.5px;font-weight:400;color:#cc0808;letter-spacing:-0.381px;">|</span>
<span class="t" style="left:1051.0px;top:518.3px;font-size:14.5px;font-weight:400;color:#cc0808;letter-spacing:-0.419px;">VV Fuel Spread (USD/MT)</span>
<span class="t" style="left:1254.5px;top:518.3px;font-size:14.5px;font-weight:400;color:#cc0808;letter-spacing:0.211px;">Rotterdam</span>
<span class="t" style="left:1326.1px;top:518.3px;font-size:14.5px;font-weight:400;color:#cc0808;letter-spacing:-0.381px;">|</span>
<span class="t" style="left:1333.0px;top:518.3px;font-size:14.5px;font-weight:400;color:#cc0808;letter-spacing:-0.419px;">VV Fuel Spread (USD/MT)</span>
<span class="t" style="left:1535.5px;top:518.3px;font-size:14.5px;font-weight:400;color:#cc0808;letter-spacing:-0.057px;">Singapore</span>
<span class="t" style="left:1603.1px;top:518.3px;font-size:14.5px;font-weight:400;color:#cc0808;letter-spacing:-0.381px;">|</span>
<span class="t" style="left:1610.0px;top:518.3px;font-size:14.5px;font-weight:400;color:#cc0808;letter-spacing:-0.419px;">VV Fuel Spread (USD/MT)</span>
<span class="t" style="left:1809.0px;top:541.2px;font-size:9px;font-weight:400;color:#000;letter-spacing:0.052px;">VesselsValue</span>
<span class="t" style="left:963.6px;top:309.9px;font-size:12px;font-weight:400;color:#333;letter-spacing:0.118px;z-index:4;">Global 4 Ports</span>
<span class="t" style="left:1042.8px;top:309.9px;font-size:12px;font-weight:400;color:#333;letter-spacing:-0.325px;z-index:4;">|</span>
<span class="t" style="left:1048.2px;top:309.9px;font-size:12px;font-weight:400;color:#333;letter-spacing:-0.099px;z-index:4;">VV Fuel Spread (USD/MT):</span>
<span class="t" style="left:1194.6px;top:309.9px;font-size:12px;font-weight:700;color:#333;letter-spacing:0.049px;z-index:4;">230.75</span>
<span class="t" style="left:1003.5px;top:344.0px;font-size:12px;font-weight:400;color:#333;letter-spacing:0.193px;z-index:4;">Fujairah</span>
<span class="t" style="left:1049.9px;top:344.0px;font-size:12px;font-weight:400;color:#333;letter-spacing:-0.325px;z-index:4;">|</span>
<span class="t" style="left:1055.3px;top:344.0px;font-size:12px;font-weight:400;color:#333;letter-spacing:-0.099px;z-index:4;">VV Fuel Spread (USD/MT):</span>
<span class="t" style="left:1201.2px;top:344.0px;font-size:12px;font-weight:700;color:#333;letter-spacing:0.074px;z-index:4;">53.99</span>
<span class="t" style="left:992.5px;top:377.7px;font-size:12px;font-weight:400;color:#333;letter-spacing:0.131px;z-index:4;">Singapore</span>
<span class="t" style="left:1049.9px;top:377.7px;font-size:12px;font-weight:400;color:#333;letter-spacing:-0.325px;z-index:4;">|</span>
<span class="t" style="left:1055.3px;top:377.7px;font-size:12px;font-weight:400;color:#333;letter-spacing:-0.099px;z-index:4;">VV Fuel Spread (USD/MT):</span>
<span class="t" style="left:1201.2px;top:377.7px;font-size:12px;font-weight:700;color:#333;letter-spacing:0.074px;z-index:4;">54.82</span>
<span class="t" style="left:988.8px;top:411.9px;font-size:12px;font-weight:400;color:#333;letter-spacing:0.341px;z-index:4;">Rotterdam</span>
<span class="t" style="left:1049.4px;top:411.9px;font-size:12px;font-weight:400;color:#333;letter-spacing:-0.325px;z-index:4;">|</span>
<span class="t" style="left:1054.8px;top:411.9px;font-size:12px;font-weight:400;color:#333;letter-spacing:-0.099px;z-index:4;">VV Fuel Spread (USD/MT):</span>
<span class="t" style="left:1201.2px;top:411.9px;font-size:12px;font-weight:700;color:#333;letter-spacing:0.074px;z-index:4;">49.23</span>
<span class="t" style="left:1000.9px;top:445.7px;font-size:12px;font-weight:400;color:#333;letter-spacing:0.400px;z-index:4;">Houston</span>
<span class="t" style="left:1049.9px;top:445.7px;font-size:12px;font-weight:400;color:#333;letter-spacing:-0.325px;z-index:4;">|</span>
<span class="t" style="left:1055.3px;top:445.7px;font-size:12px;font-weight:400;color:#333;letter-spacing:-0.099px;z-index:4;">VV Fuel Spread (USD/MT):</span>
<span class="t" style="left:1201.2px;top:445.7px;font-size:12px;font-weight:700;color:#333;letter-spacing:-0.026px;z-index:4;">38.41</span>
<span class="t" style="left:1184.8px;top:482.5px;font-size:10px;font-weight:400;color:#333;letter-spacing:0.129px;z-index:4;">Week from Monday, Sep 5, 2022</span>
</body>
</html>
